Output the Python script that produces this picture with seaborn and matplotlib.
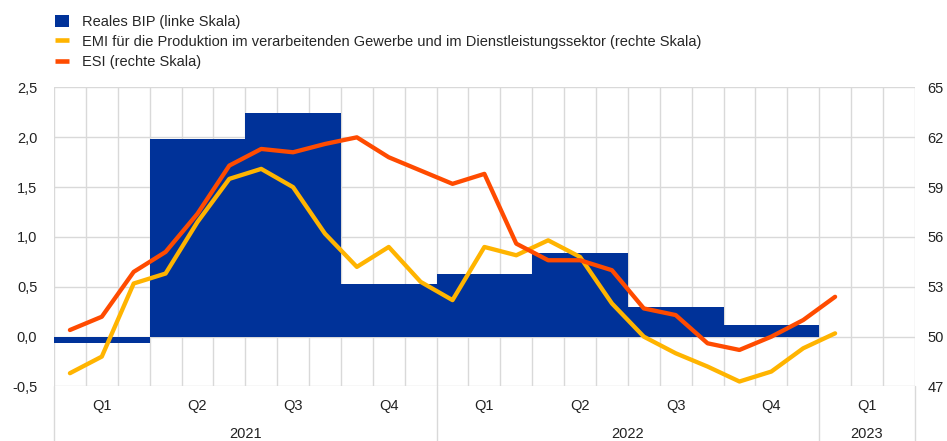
import matplotlib
matplotlib.use("Agg")
import matplotlib.pyplot as plt
import numpy as np
import pandas as pd
import seaborn as sns
from matplotlib.lines import Line2D
from matplotlib.patches import Patch
from matplotlib.ticker import FuncFormatter

# quarterly real GDP growth (left scale), Q1 2021 .. Q4 2022
gdp_quarters = ["2021Q1", "2021Q2", "2021Q3", "2021Q4", "2022Q1", "2022Q2", "2022Q3", "2022Q4"]
gdp_values = [-0.06, 1.98, 2.24, 0.53, 0.63, 0.84, 0.30, 0.12]

# monthly indicators (right scale), Jan 2021 .. Jan 2023
emi_values = [47.8, 48.8, 53.2, 53.8, 56.9, 59.5, 60.1, 59.0, 56.2, 54.2, 55.4, 53.3, 52.2,
              55.4, 54.9, 55.8, 54.8, 52.0, 50.0, 49.0, 48.2, 47.3, 47.9, 49.3, 50.2]
esi_values = [50.4, 51.2, 53.9, 55.1, 57.4, 60.3, 61.3, 61.1, 61.6, 62.0, 60.8, 60.0, 59.2,
              59.8, 55.6, 54.6, 54.6, 54.0, 51.7, 51.3, 49.6, 49.2, 50.0, 51.0, 52.4]

quarter_labels = ["Q1", "Q2", "Q3", "Q4", "Q1", "Q2", "Q3", "Q4", "Q1"]
year_labels = ["2021", "2022", "2023"]
year_months = [12, 12, 3]

BLUE = "#003299"
YELLOW = "#FFB400"
ORANGE = "#FF4B00"
GRID = "#d9d9d9"
TXT = "#222222"
FS = 10.5

sns.set_theme(style="white")
plt.rcParams["font.family"] = ["Liberation Sans", "DejaVu Sans"]

fig = plt.figure(figsize=(9.47, 4.41), dpi=100)
ax = fig.add_axes([0.057, 0.1236, 0.909, 0.678])
ax2 = ax.twinx()

n_months = len(quarter_labels) * 3
months = pd.DataFrame({"m": np.arange(len(emi_values)) + 0.5,
                       "emi": emi_values, "esi": esi_values})

# bars: each quarter spans three months
starts = np.arange(len(gdp_values)) * 3
ax.bar(starts, gdp_values, width=3, align="edge", color=BLUE, linewidth=0, zorder=2)

sns.lineplot(data=months, x="m", y="emi", ax=ax2, color=YELLOW, lw=3.1, zorder=3)
sns.lineplot(data=months, x="m", y="esi", ax=ax2, color=ORANGE, lw=3.1, zorder=4)

ax.set_xlim(0, n_months)
ax.set_ylim(-0.5, 2.5)
ax.set_yticks(np.arange(-0.5, 2.51, 0.5))
ax.yaxis.set_major_formatter(FuncFormatter(lambda v, p: f"{v:.1f}".replace(".", ",")))
ax2.set_ylim(47, 65)
ax2.set_yticks(np.arange(47, 66, 3))

ax.set_xticks(np.arange(0, n_months + 1))
ax.set_xticklabels([])
ax.grid(True, color=GRID, lw=1, zorder=0)
ax.set_axisbelow(True)
for a in (ax, ax2):
    for s in a.spines.values():
        s.set_visible(False)
    a.set_xlabel("")
    a.set_ylabel("")
ax.tick_params(axis="both", length=0, labelsize=FS, colors=TXT)
ax.tick_params(axis="y", pad=12)
ax2.tick_params(axis="y", length=0, labelsize=FS, colors=TXT, pad=9)

# quarter and year labels under the axis
tr = ax.get_xaxis_transform()
for i, q in enumerate(quarter_labels):
    ax.text(i * 3 + 1.5, -0.065, q, transform=tr, ha="center", va="center", fontsize=FS, color=TXT)
pos = 0
for y, n in zip(year_labels, year_months):
    ax.text(pos + n / 2, -0.16, y, transform=tr, ha="center", va="center", fontsize=FS, color=TXT)
    ax.add_line(Line2D([pos, pos], [0, -0.19], transform=tr, color=GRID, lw=1, clip_on=False))
    pos += n
ax.add_line(Line2D([pos, pos], [0, -0.19], transform=tr, color=GRID, lw=1, clip_on=False))

handles = [Patch(facecolor=BLUE, edgecolor="none"),
           Line2D([], [], color=YELLOW, lw=3.3, solid_capstyle="butt"),
           Line2D([], [], color=ORANGE, lw=3.3, solid_capstyle="butt")]
labels = ["Reales BIP (linke Skala)",
          "EMI für die Produktion im verarbeitenden Gewerbe und im Dienstleistungssektor (rechte Skala)",
          "ESI (rechte Skala)"]
fig.legend(handles, labels, loc="upper left", bbox_to_anchor=(0.047, 0.99), frameon=False,
           fontsize=FS, handlelength=1.0, handleheight=0.9, handletextpad=0.85,
           labelspacing=0.42, borderaxespad=0.3)

fig.savefig("out.png", dpi=100)
